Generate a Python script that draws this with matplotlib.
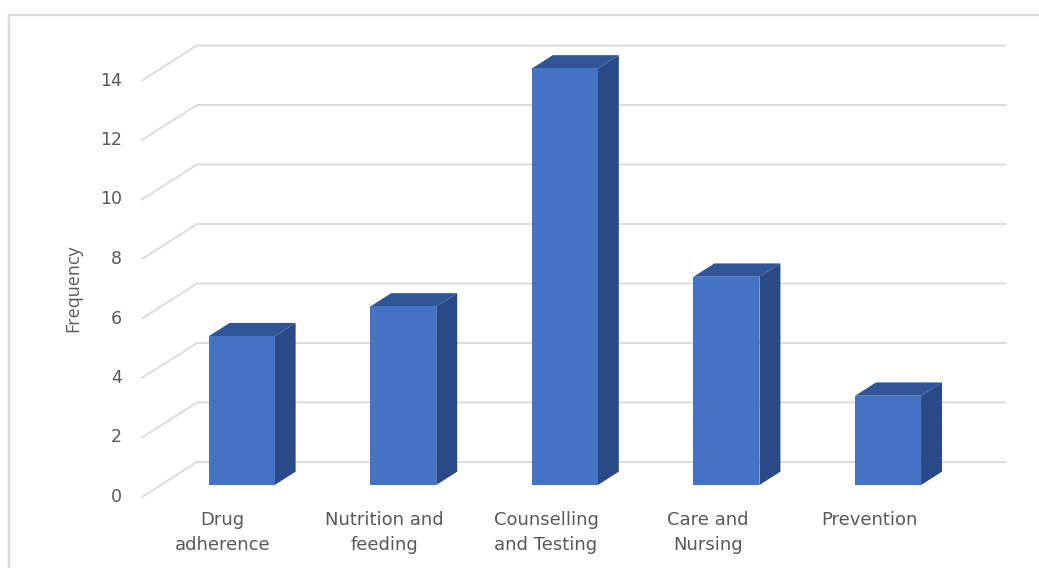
import matplotlib
matplotlib.use("Agg")
import matplotlib.pyplot as plt
from matplotlib.patches import Polygon, Rectangle
from matplotlib.lines import Line2D

categories = ["Drug\nadherence", "Nutrition and\nfeeding", "Counselling\nand Testing",
              "Care and\nNursing", "Prevention"]
values = [5, 6, 14, 7, 3]
yticks = [0, 2, 4, 6, 8, 10, 12, 14]
ylabel = "Frequency"

W, H, DPI = 1039, 568, 100
fig = plt.figure(figsize=(W / DPI, H / DPI), dpi=DPI)
ax = fig.add_axes([0, 0, 1, 1])
ax.set_axis_off()

# pixel geometry of the front plane
px_per_cat = 161.6
px_per_val = 29.75
x0_px = 142.0   # front-plane x of category -0.5
y0_px = 497.0   # front-plane y of value 0 (from top)
ax.set_xlim(-0.5 - x0_px / px_per_cat, -0.5 + (W - x0_px) / px_per_cat)
yb = -(H - y0_px) / px_per_val
ax.set_ylim(yb, yb + H / px_per_val)

# depth offset (full depth) in data units
DX = 55 / px_per_cat
DY = 35 / px_per_val

def proj(x, v, d):
    return (x + d * DX, v + d * DY)

text_c = "#595959"
font = "DejaVu Sans"
grid_c = "#dcdcdc"
n = len(categories)
for t in yticks:
    a = proj(-0.5, t, 0)
    b = proj(-0.5, t, 1)
    c = proj(n - 0.5, t, 1)
    ax.add_line(Line2D([a[0], b[0], c[0]], [a[1], b[1], c[1]], color=grid_c, lw=1.4,
                       solid_joinstyle="miter", zorder=1))
    ax.text(a[0] - 20 / px_per_cat, a[1], str(t), ha="right", va="center",
            fontsize=12.5, color=text_c, family=font)

# frame
ax.add_patch(Rectangle((ax.get_xlim()[0] + 8.5 / px_per_cat, ax.get_ylim()[0] - 1),
                       10, (H - 15) / px_per_val + 1, fill=False, ec="#d9d9d9", lw=1.6, zorder=0))

front_c = "#4472C4"
top_c = "#2F5597"
side_c = "#294A86"
bw = 66 / px_per_cat
d0, d1 = 0.343, 0.724
for i, v in enumerate(values):
    xl, xr = i - bw / 2, i + bw / 2
    side = [proj(xr, 0, d0), proj(xr, 0, d1), proj(xr, v, d1), proj(xr, v, d0)]
    top = [proj(xl, v, d0), proj(xr, v, d0), proj(xr, v, d1), proj(xl, v, d1)]
    front = [proj(xl, 0, d0), proj(xr, 0, d0), proj(xr, v, d0), proj(xl, v, d0)]
    ax.add_patch(Polygon(side, closed=True, fc=side_c, ec="none", zorder=3))
    ax.add_patch(Polygon(top, closed=True, fc=top_c, ec="none", zorder=3))
    ax.add_patch(Polygon(front, closed=True, fc=front_c, ec="none", zorder=4))
    lx, ly = proj(i, 0, 0)
    ax.text(lx, ly - 14 / px_per_val, categories[i], ha="center", va="top",
            fontsize=13, color=text_c, family=font, linespacing=1.5)

ax.text(ax.get_xlim()[0] + 73 / px_per_cat, (497 - 288) / px_per_val, ylabel,
        rotation=90, ha="center", va="center", fontsize=13, color=text_c,
        family=["Liberation Sans Narrow", "Open Sans"])

fig.savefig("out.png", dpi=DPI)
